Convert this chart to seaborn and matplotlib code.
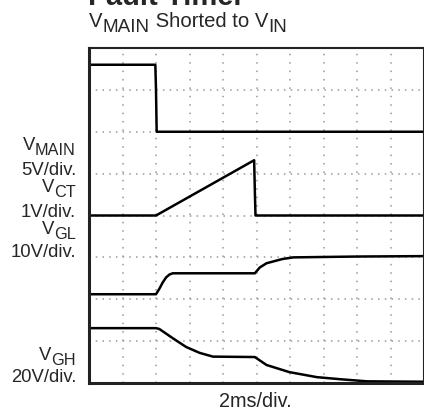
import numpy as np
import pandas as pd
import matplotlib
matplotlib.use('Agg')
import matplotlib.pyplot as plt
import seaborn as sns

# scope traces, in divisions (x: 0..10 at 2ms/div, y: 0..8)
vmain_t = [0.0, 1.98, 2.0, 2.02, 10.0]
vmain_v = [7.6, 7.6, 7.0, 6.0, 6.0]

vct_t = [0.0, 2.0, 4.93, 4.95, 4.97, 10.0]
vct_v = [4.0, 4.0, 5.32, 4.6, 4.0, 4.0]

vgl_t = [0.0, 2.0, 2.1, 2.2, 2.3, 2.4, 2.5, 4.95, 5.1, 5.3, 5.77, 6.1, 8.0, 10.0]
vgl_v = [2.12, 2.12, 2.25, 2.4, 2.52, 2.59, 2.62, 2.62, 2.76, 2.86, 2.96, 3.0, 3.02, 3.03]

vgh_t = [0.0, 2.0, 2.1, 2.5, 2.9, 3.3, 3.7, 4.95, 5.3, 5.98, 6.8, 7.5, 8.3, 10.0]
vgh_v = [1.31, 1.31, 1.29, 1.07, 0.86, 0.72, 0.63, 0.62, 0.43, 0.26, 0.14, 0.09, 0.04, 0.03]

# labels on the left: (main, subscript, baseline pixel from top)
side_labels = [
    ('V', 'MAIN', 150), ('5V/div.', '', 175),
    ('V', 'CT', 192), ('1V/div.', '', 217),
    ('V', 'GL', 234), ('10V/div.', '', 257),
    ('V', 'GH', 360), ('20V/div.', '', 382),
]

sns.set_style('white')
plt.rcParams['font.family'] = ['Liberation Sans', 'DejaVu Sans']
plt.rcParams['lines.scale_dashes'] = False

W, H = 424, 412
fig = plt.figure(figsize=(W / 100, H / 100), dpi=100)
ax = fig.add_axes([89 / W, 29 / H, 335 / W, 335 / H])

# scope graticule: dots every 1/5 division
for y in range(1, 8):
    ax.axhline(y, color='#999999', linewidth=1.1, linestyle=(0, (1.1, 3.74)), zorder=0)
for x in range(1, 10):
    ax.axvline(x, color='#999999', linewidth=1.1, linestyle=(0, (1.1, 4.95)), zorder=0)

for t, v in [(vmain_t, vmain_v), (vct_t, vct_v), (vgl_t, vgl_v), (vgh_t, vgh_v)]:
    sns.lineplot(x=t, y=v, ax=ax, color='black', linewidth=1.8,
                 estimator=None, sort=False)

ax.set_xlim(0, 10)
ax.set_ylim(0, 8)
ax.set_xticks([])
ax.set_yticks([])
for side in ['left', 'bottom']:
    ax.spines[side].set_linewidth(2.2)
for side in ['top', 'right']:
    ax.spines[side].set_linewidth(1.5)
for s in ax.spines.values():
    s.set_color('#222222')

renderer = fig.canvas.get_renderer()


def width_px(t):
    return t.get_window_extent(renderer).width


def label_right(x, yb, main, sub, size):
    # right aligned "main" with a large, lowered subscript
    xr = x
    if sub:
        ts = fig.text(xr / W, 1 - (yb + 5) / H, sub, fontsize=size * 0.88,
                      ha='right', va='baseline')
        xr -= width_px(ts)
    fig.text(xr / W, 1 - yb / H, main, fontsize=size, ha='right', va='baseline')


def label_left(x, yb, parts, size):
    # sequence of (text, is_subscript) pieces
    for txt, is_sub in parts:
        if is_sub:
            t = fig.text(x / W, 1 - (yb + 5) / H, txt, fontsize=size * 0.93,
                         ha='left', va='baseline')
        else:
            t = fig.text(x / W, 1 - yb / H, txt, fontsize=size,
                         ha='left', va='baseline')
        x += width_px(t)


fig.text(88 / W, 1 - 5 / H, 'Fault Timer', fontsize=21, fontweight='bold',
         ha='left', va='baseline')
label_left(89, 27, [('V', False), ('MAIN', True), (' Shorted to V', False), ('IN', True)], 14.6)
for main, sub, yb in side_labels:
    label_right(76, yb, main, sub, 13.3)
fig.text(255 / W, 1 - 407 / H, '2ms/div.', fontsize=14.3, ha='center', va='baseline')

fig.savefig('out.png', dpi=100)
